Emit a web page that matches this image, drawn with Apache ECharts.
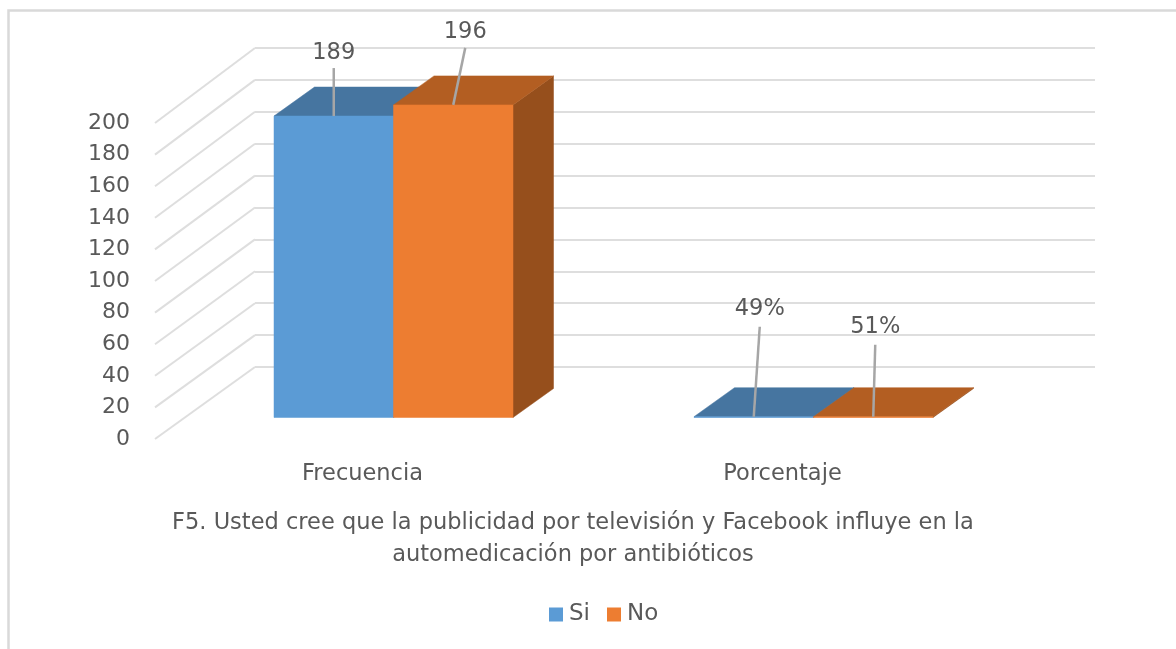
<!DOCTYPE html>
<html>
<head>
<meta charset="utf-8">
<style>html,body{margin:0;padding:0;background:#fff}#c{width:1176px;height:649px}</style>
<script src="https://cdn.jsdelivr.net/npm/echarts@6/dist/echarts.min.js"></script>
</head>
<body>
<div id="c"></div>
<script>
const categories = ['Frecuencia', 'Porcentaje'];
const siValues = [189, 0.49];
const noValues = [196, 0.51];
const siLabels = ['189', '49%'];
const noLabels = ['196', '51%'];
const yTicks = [0, 20, 40, 60, 80, 100, 120, 140, 160, 180, 200];
const titleText = 'F5. Usted cree que la publicidad por televisión y Facebook influye en la\nautomedicación por antibióticos';

const FONT = '"DejaVu Sans", "Noto Sans", sans-serif';
const TEXT = '#595959', GRID = '#dedede', LEADER = '#a6a6a6';
const WALL = { dx: 100, dyBottom: -72, dyTop: -75 };
const BAR = { width: 119.5, shiftX: -71.5, shiftY: 50.5, dx: 40.5, dy: -29 };
const siLeaders = [[0, -48, 15], [6, -90, 18]];
const noLeaders = [[12, -57, 16], [2, -72, 18]];

function barRenderer(slot, front, top, side, labels, leaders) {
  return function (params, api) {
    const i = api.value(0), v = api.value(1);
    const base = api.coord([i, 0]), tip = api.coord([i, v]);
    const x0 = base[0] + BAR.shiftX + slot * BAR.width, x1 = x0 + BAR.width;
    const y0 = base[1] + BAR.shiftY, y1 = tip[1] + BAR.shiftY;
    const d = [BAR.dx, BAR.dy];
    const poly = (points, fill, z2) => ({
      type: 'polygon', shape: { points }, z2,
      style: { fill, stroke: fill, lineWidth: 0.5 }
    });
    const cx = (x0 + x1) / 2;
    const l = leaders[i];
    const endX = cx + l[0], endY = y1 + l[1];
    return {
      type: 'group',
      children: [
        poly([[x1, y0], [x1 + d[0], y0 + d[1]], [x1 + d[0], y1 + d[1]], [x1, y1]], side, 1),
        poly([[x0, y1], [x1, y1], [x1 + d[0], y1 + d[1]], [x0 + d[0], y1 + d[1]]], top, 2),
        poly([[x0, y0], [x1, y0], [x1, y1], [x0, y1]], front, 3),
        { type: 'line', z2: 10, shape: { x1: cx, y1: y1, x2: endX, y2: endY },
          style: { stroke: LEADER, lineWidth: 2.5 } },
        { type: 'text', z2: 11, style: {
            x: endX, y: endY - l[2], text: labels[i], fill: TEXT, font: '22.5px ' + FONT,
            align: 'center', verticalAlign: 'middle' } }
      ]
    };
  };
}

function wallRenderer(params, api) {
  const v = api.value(0);
  const p = api.coord([0, v]);
  const left = params.coordSys.x;
  const dy = WALL.dyBottom + (WALL.dyTop - WALL.dyBottom) * v / 200;
  return {
    type: 'line',
    shape: { x1: left, y1: p[1], x2: left + WALL.dx, y2: p[1] + dy },
    style: { stroke: GRID, lineWidth: 2 }
  };
}

const chart = echarts.init(document.getElementById('c'), null, { renderer: 'canvas' });
chart.setOption({
  animation: false,
  backgroundColor: '#fff',
  textStyle: { fontFamily: FONT },
  title: {
    text: titleText, left: 568, top: 502, textAlign: 'center',
    textStyle: { fontFamily: FONT, fontSize: 22.5, fontWeight: 'normal', color: TEXT, lineHeight: 32 }
  },
  legend: {
    data: ['Si', 'No'], left: 544, top: 598, itemWidth: 14, itemHeight: 14, itemGap: 17,
    icon: 'rect', textStyle: { fontFamily: FONT, fontSize: 23, color: TEXT, padding: [0, 0, 0, 1] }
  },
  grid: [
    { left: 155, width: 840, top: 123, height: 316 },
    { left: 255, width: 840, top: 48, height: 319 }
  ],
  xAxis: [
    { gridIndex: 0, type: 'category', data: categories, axisLine: { show: false }, axisTick: { show: false },
      axisLabel: { margin: 24, fontSize: 22.5, color: TEXT, fontFamily: FONT, padding: [0, 5, 0, 0] } },
    { gridIndex: 1, type: 'category', data: categories, show: false }
  ],
  yAxis: [
    { gridIndex: 0, type: 'value', min: 0, max: 200, interval: 20, splitLine: { show: false },
      axisLine: { show: false }, axisTick: { show: false },
      axisLabel: { margin: 25, fontSize: 22, color: TEXT, fontFamily: FONT } },
    { gridIndex: 1, type: 'value', min: 0, max: 200, interval: 20,
      axisLine: { show: false }, axisTick: { show: false }, axisLabel: { show: false },
      splitLine: { show: true, lineStyle: { color: GRID, width: 2 } } }
  ],
  graphic: [
    { type: 'polyline', z: -1, silent: true,
      shape: { points: [[8.5, 649], [8.5, 10.5], [1176, 10.5]] },
      style: { fill: 'none', stroke: '#d9d9d9', lineWidth: 2.5 } }
  ],
  series: [
    { type: 'custom', name: 'pared', xAxisIndex: 0, yAxisIndex: 0, silent: true, z: 1,
      data: yTicks.map(t => [t]), encode: { y: 0 }, renderItem: wallRenderer },
    { type: 'custom', name: 'Si', xAxisIndex: 1, yAxisIndex: 1, z: 3,
      itemStyle: { color: '#5b9bd5' }, encode: { x: 0, y: 1 },
      data: siValues.map((v, i) => [i, v]),
      renderItem: barRenderer(-1, '#5b9bd5', '#4675a0', '#41719c', siLabels, siLeaders) },
    { type: 'custom', name: 'No', xAxisIndex: 1, yAxisIndex: 1, z: 4,
      itemStyle: { color: '#ed7d31' }, encode: { x: 0, y: 1 },
      data: noValues.map((v, i) => [i, v]),
      renderItem: barRenderer(0, '#ed7d31', '#b35e22', '#964f1c', noLabels, noLeaders) }
  ]
});
</script>
</body>
</html>
